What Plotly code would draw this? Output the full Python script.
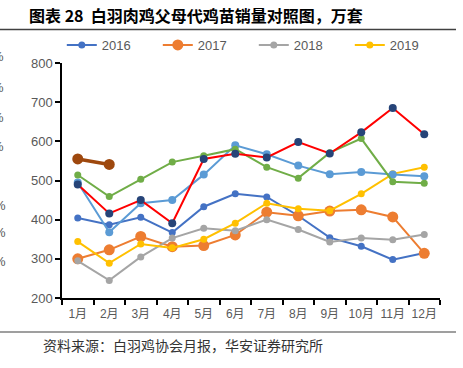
import plotly.graph_objects as go

W, H = 463, 368
L, R, T, B = 62, 23, 63, 70
PW, PH = W - L - R, H - T - B

def px(x):
    return (x - L) / PW

def py(y):
    return (H - B - y) / PH

months = ["1月", "2月", "3月", "4月", "5月", "6月", "7月", "8月", "9月", "10月", "11月", "12月"]

s2016 = [404, 387, 406, 367, 433, 466, 458, 410, 354, 332, 298, 315]
s2017 = [300, 323, 357, 331, 334, 361, 419, 410, 422, 425, 407, 314]
s2018 = [295, 245, 305, 353, 378, 372, 400, 375, 343, 353, 349, 362]
s2019 = [344, 289, 338, 328, 350, 391, 442, 428, 423, 466, 517, 534]
s_lightblue = [495, 368, 442, 450, 515, 590, 567, 538, 516, 522, 515, 511]
s_green = [514, 459, 503, 547, 563, 580, 534, 506, 571, 607, 497, 493]
s_red = [490, 416, 450, 391, 555, 568, 559, 598, 569, 623, 685, 618]
s_brown = [555, 541]

legend_names = ["2016", "2017", "2018", "2019"]

fig = go.Figure()

def add(y, color, msize, lw=2, name=None, mcolor=None, show=False, x=months):
    fig.add_trace(go.Scatter(
        x=x[:len(y)], y=y, mode="lines+markers", name=name, showlegend=show,
        line=dict(color=color, width=lw),
        marker=dict(color=mcolor or color, size=msize),
    ))

add(s2016, "#4472C4", 7, name=legend_names[0], show=True)
add(s2017, "#ED7D31", 11, name=legend_names[1], show=True)
add(s2018, "#A5A5A5", 7, name=legend_names[2], show=True)
add(s2019, "#FFC000", 7, name=legend_names[3], show=True)
add(s_lightblue, "#5B9BD5", 8)
add(s_green, "#70AD47", 7)
add(s_red, "#FF0000", 8, mcolor="#264478")
add(s_brown, "#9E480E", 11, lw=3.5)

tickfont = dict(family="Liberation Sans, Noto Sans CJK SC", size=13, color="#595959")

fig.update_layout(
    width=W, height=H,
    margin=dict(l=L, r=R, t=T, b=B, autoexpand=False),
    paper_bgcolor="white", plot_bgcolor="white",
    showlegend=True,
    legend=dict(orientation="h", x=px(61.8), y=py(45), xanchor="left", yanchor="middle",
                entrywidth=51, entrywidthmode="pixels",
                font=dict(family="Liberation Sans", size=13, color="#595959"),
                bgcolor="rgba(0,0,0,0)", itemwidth=30),
    xaxis=dict(type="category", showgrid=False, showline=True, linecolor="#000000", linewidth=1.5,
               ticks="outside", ticklen=5, tickcolor="#000000", tickwidth=1.5, tickson="boundaries",
               tickangle=0, ticklabelstandoff=4,
               tickfont=dict(family="Liberation Sans, Noto Sans CJK SC", size=12, color="#595959"),
               range=[-0.5, 11.5]),
    yaxis=dict(range=[200, 800], dtick=100, showgrid=False, showline=True, linecolor="#000000",
               linewidth=1.5, ticks="outside", ticklen=5, tickcolor="#000000", tickwidth=1.5,
               tickfont=tickfont, zeroline=False),
)

# title
fig.add_annotation(text="<b>图表 28  白羽肉鸡父母代鸡苗销量对照图，万套</b>", xref="paper", yref="paper",
                   x=px(27), y=py(15), xanchor="left", yanchor="middle", showarrow=False,
                   font=dict(family="Noto Sans CJK SC", size=16, color="#000000"))
# source
fig.add_annotation(text="资料来源：白羽鸡协会月报，华安证券研究所", xref="paper", yref="paper",
                   x=px(41), y=py(345), xanchor="left", yanchor="middle", showarrow=False,
                   font=dict(family="Noto Sans CJK SC", size=14, color="#333333"))

fig.add_shape(type="line", xref="paper", yref="paper", x0=px(0), x1=px(456), y0=py(29.5), y1=py(29.5),
              line=dict(color="#404040", width=1.5))
fig.add_shape(type="line", xref="paper", yref="paper", x0=px(0), x1=px(456), y0=py(332), y1=py(332),
              line=dict(color="#7F7F7F", width=1.5))

# partial glyphs cut off at the left edge
for yy, xr in [(57, 6), (87, 6), (117, 6), (146, 6), (205, 8), (233, 8), (261, 8)]:
    fig.add_annotation(text="%", xref="paper", yref="paper", x=px(xr), y=py(yy), xanchor="right",
                       yanchor="middle", showarrow=False,
                       font=dict(family="Liberation Sans", size=13, color="#595959"))

fig.write_html("out.html", config={"displayModeBar": False},
               post_script="document.body.style.margin='0';")
